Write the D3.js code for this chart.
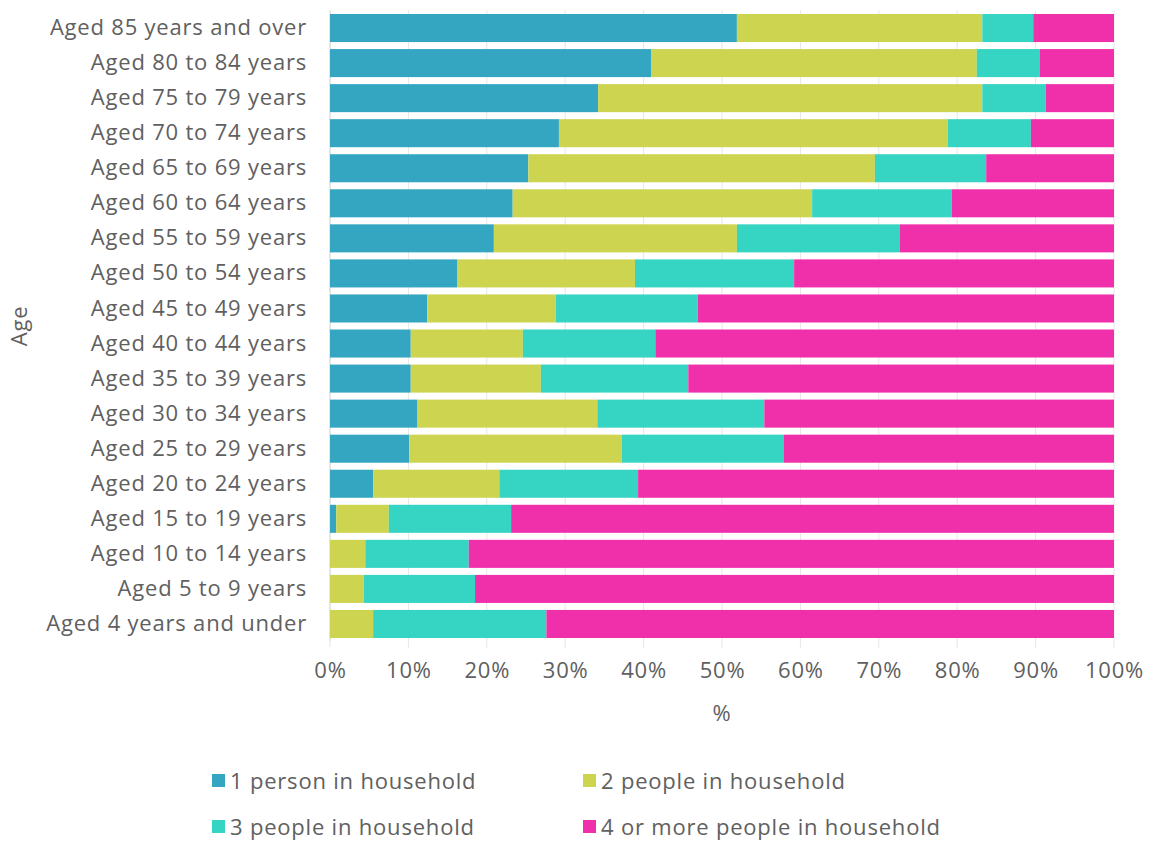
<!DOCTYPE html>
<html>
<head>
<meta charset="utf-8">
<script src="https://cdn.jsdelivr.net/npm/d3@7"></script>
<style>
  body { margin: 0; background: #fff; }
  svg text { font-family: "Open Sans", sans-serif; font-weight: 400; fill: #606060; letter-spacing: 0.8px; }
</style>
</head>
<body>
<svg width="1153" height="841"></svg>
<script>
// categories top -> bottom
const ageGroups = [
    'Aged 85 years and over', 'Aged 80 to 84 years', 'Aged 75 to 79 years',
    'Aged 70 to 74 years', 'Aged 65 to 69 years', 'Aged 60 to 64 years',
    'Aged 55 to 59 years', 'Aged 50 to 54 years', 'Aged 45 to 49 years',
    'Aged 40 to 44 years', 'Aged 35 to 39 years', 'Aged 30 to 34 years',
    'Aged 25 to 29 years', 'Aged 20 to 24 years', 'Aged 15 to 19 years',
    'Aged 10 to 14 years', 'Aged 5 to 9 years', 'Aged 4 years and under',
];
const seriesNames = [
    '1 person in household',
    '2 people in household',
    '3 people in household',
    '4 or more people in household',
];
// % values per series, same order as ageGroups
const onePerson = [51.9, 41.0, 34.2, 29.2, 25.3, 23.3, 20.9, 16.2, 12.4, 10.3, 10.3, 11.1, 10.1, 5.5, 0.8, 0, 0, 0];
const twoPeople = [31.3, 41.5, 49.0, 49.6, 44.2, 38.2, 31.0, 22.7, 16.4, 14.3, 16.6, 23.0, 27.1, 16.1, 6.7, 4.5, 4.3, 5.5];
const threePeople = [6.5, 8.0, 8.1, 10.6, 14.2, 17.8, 20.8, 20.3, 18.1, 16.9, 18.8, 21.3, 20.7, 17.7, 15.6, 13.2, 14.2, 22.1];
const fourPlus = [10.3, 9.5, 8.7, 10.6, 16.3, 20.7, 27.3, 40.8, 53.1, 58.5, 54.3, 44.6, 42.1, 60.7, 76.9, 82.3, 81.5, 72.4];
const xTicks = [0, 10, 20, 30, 40, 50, 60, 70, 80, 90, 100];
const colors = ['#34a6c2', '#cdd44f', '#36d4c3', '#f02fab'];

const svg = d3.select('svg');
const margin = { left: 330, right: 39, top: 10.5, bottom: 199.5 };
const width = 1153 - margin.left - margin.right;
const height = 841 - margin.top - margin.bottom;
const fontSize = '22px';

const rows = ageGroups.map((age, i) => ({
    age,
    s0: onePerson[i], s1: twoPeople[i], s2: threePeople[i], s3: fourPlus[i],
}));
const stack = d3.stack().keys(['s0', 's1', 's2', 's3']);
const stacked = stack(rows);

const x = d3.scaleLinear().domain([0, 100]).range([0, width]);
const y = d3.scaleBand().domain(ageGroups).range([0, height]).paddingInner(0.2).paddingOuter(0.1);

const g = svg.append('g').attr('transform', `translate(${margin.left},${margin.top})`);

// *** grid ***
g.append('g')
    .selectAll('line')
    .data(xTicks)
    .enter()
    .append('line')
    .attr('x1', d => x(d)).attr('x2', d => x(d))
    .attr('y1', 0).attr('y2', height + 6)
    .attr('stroke', '#e6e6e6');
g.append('line')
    .attr('x1', 0).attr('x2', 0)
    .attr('y1', 0).attr('y2', height)
    .attr('stroke', '#d9d9d9');

// *** bars ***
g.append('g')
    .selectAll('g')
    .data(stacked)
    .enter()
    .append('g')
    .attr('fill', (d, i) => colors[i])
    .selectAll('rect')
    .data(d => d)
    .enter()
    .append('rect')
    .attr('x', d => x(d[0]))
    .attr('width', d => x(d[1]) - x(d[0]))
    .attr('y', d => y(d.data.age))
    .attr('height', y.bandwidth());

// *** axes ***
const xAxis = g.append('g')
    .attr('transform', `translate(0,${height})`)
    .call(d3.axisBottom(x).tickValues(xTicks).tickFormat(d => d + '%').tickSize(0).tickPadding(21));
xAxis.select('.domain').remove();
xAxis.selectAll('text').style('font-size', fontSize).attr('fill', '#606060');

const yAxis = g.append('g')
    .call(d3.axisLeft(y).tickSize(0).tickPadding(23));
yAxis.select('.domain').remove();
yAxis.selectAll('text').style('font-size', fontSize).attr('fill', '#606060');

svg.append('text')
    .attr('x', margin.left + width / 2)
    .attr('y', 721)
    .attr('text-anchor', 'middle')
    .style('font-size', fontSize)
    .text('%');
svg.append('text')
    .attr('transform', `translate(27,${margin.top + height / 2}) rotate(-90)`)
    .attr('text-anchor', 'middle')
    .style('font-size', fontSize)
    .text('Age');

// *** legend ***
const legendPos = [[212, 781], [583, 781], [212, 827], [583, 827]];
const legend = svg.append('g')
    .selectAll('g')
    .data(seriesNames)
    .enter()
    .append('g')
    .attr('transform', (d, i) => `translate(${legendPos[i][0]},${legendPos[i][1]})`);
legend.append('rect')
    .attr('x', 0).attr('y', -7)
    .attr('width', 13).attr('height', 13)
    .attr('fill', (d, i) => colors[i]);
legend.append('text')
    .attr('x', 18)
    .attr('dy', '0.35em')
    .style('font-size', fontSize)
    .text(d => d);
</script>
</body>
</html>
